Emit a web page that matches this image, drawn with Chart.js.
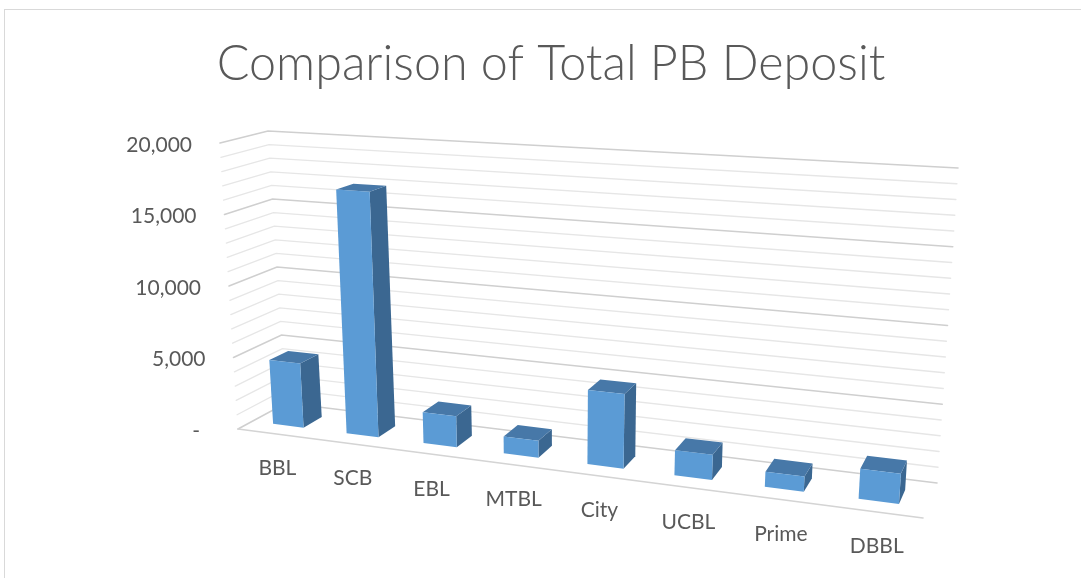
<!DOCTYPE html>
<html lang="en">
<head>
    <meta charset="UTF-8">
    <title>Comparison of Total PB Deposit</title>
    <script src="https://cdn.jsdelivr.net/npm/chart.js"></script>
    <style>
        html, body { margin: 0; padding: 0; background: #fff; overflow: hidden; }
        .frame {
            position: absolute; left: 4px; top: 9px; width: 2000px; height: 2000px;
            border-top: 1px solid #d9d9d9; border-left: 1px solid #d9d9d9;
        }
        #chart { position: absolute; left: 0; top: 0; }
    </style>
</head>

<body>
    <div class="frame"></div>
    <canvas id="chart" width="1081" height="578"></canvas>

    <script>
        // data
        const chartTitle = 'Comparison of Total PB Deposit';
        const banks = ['BBL', 'SCB', 'EBL', 'MTBL', 'City', 'UCBL', 'Prime', 'DBBL'];
        const deposits = [4500, 16900, 2100, 1130, 4850, 1600, 950, 1850];
        const yMax = 20000;
        const yStep = 1000;       // minor gridlines
        const yLabelStep = 5000;  // labelled gridlines

        // screen corners of the 3D plot box (front plane / back wall)
        const front = { tl: [220, 143], tr: [946, 183], br: [923, 518], bl: [238, 429] };
        const back = { tl: [268, 131], tr: [958, 168], br: [937, 483], bl: [286, 403] };
        const persp = 0.16;          // foreshortening along categories
        const barDepth = [0.3, 0.7]; // bars sit in the middle of the floor depth

        const lerp = (a, b, t) => a + (b - a) * t;

        function planePt(pl, u, v) {
            const bx = lerp(pl.bl[0], pl.br[0], u), by = lerp(pl.bl[1], pl.br[1], u);
            const tx = lerp(pl.tl[0], pl.tr[0], u), ty = lerp(pl.tl[1], pl.tr[1], u);
            return [lerp(bx, tx, v), lerp(by, ty, v)];
        }

        // u: 0..1 across categories, v: 0..1 of value axis, d: 0 front .. 1 back
        function proj(u, v, d) {
            const w = u * (1 - persp) + persp * u * u;
            const f = planePt(front, w, v), b = planePt(back, w, v);
            return [lerp(f[0], b[0], d), lerp(f[1], b[1], d)];
        }

        function poly(ctx, pts, color) {
            ctx.beginPath();
            ctx.moveTo(pts[0][0], pts[0][1]);
            pts.slice(1).forEach(p => ctx.lineTo(p[0], p[1]));
            ctx.closePath();
            ctx.fillStyle = color;
            ctx.fill();
        }

        function line(ctx, pts, color, width) {
            ctx.beginPath();
            ctx.moveTo(pts[0][0], pts[0][1]);
            pts.slice(1).forEach(p => ctx.lineTo(p[0], p[1]));
            ctx.strokeStyle = color;
            ctx.lineWidth = width;
            ctx.stroke();
        }

        // draws walls, gridlines and 3D columns from the flat bar geometry
        const box3d = {
            id: 'box3d',
            beforeDatasetsDraw(chart) {
                const ctx = chart.ctx;
                const ys = chart.scales.y;
                const ca = chart.chartArea;

                ctx.save();
                ctx.lineCap = 'round';
                ys.ticks.forEach(t => {
                    const v = t.value / yMax;
                    const major = t.value % yLabelStep === 0;
                    line(ctx, [proj(0, v, 0), proj(0, v, 1), proj(1, v, 1)],
                        major ? '#cfcfcf' : '#e6e6e6', major ? 1.6 : 1.3);
                });
                line(ctx, [proj(0, 0, 0), proj(1, 0, 0)], '#d4d4d4', 1.6);

                const [dF, dB] = barDepth;
                chart.getDatasetMeta(0).data.forEach(bar => {
                    const p = bar.getProps(['x', 'y', 'base', 'width'], true);
                    const u0 = (p.x - p.width / 2 - ca.left) / ca.width;
                    const u1 = (p.x + p.width / 2 - ca.left) / ca.width;
                    const v0 = (ca.bottom - p.base) / ca.height;
                    const v1 = (ca.bottom - p.y) / ca.height;

                    poly(ctx, [proj(u1, v0, dF), proj(u1, v1, dF), proj(u1, v1, dB), proj(u1, v0, dB)], '#3b6791');
                    poly(ctx, [proj(u0, v1, dF), proj(u1, v1, dF), proj(u1, v1, dB), proj(u0, v1, dB)], '#4778a8');
                    poly(ctx, [proj(u0, v0, dF), proj(u1, v0, dF), proj(u1, v1, dF), proj(u0, v1, dF)], '#5b9bd5');
                });
                ctx.restore();
                return false;
            },
            afterDraw(chart) {
                const ctx = chart.ctx;
                const ys = chart.scales.y;
                const ca = chart.chartArea;

                ctx.save();
                ctx.fillStyle = '#595959';
                ctx.font = '21px Lato';
                ctx.textAlign = 'center';
                ctx.textBaseline = 'middle';
                chart.getDatasetMeta(0).data.forEach((bar, i) => {
                    const p = proj((bar.x - ca.left) / ca.width, 0, 0);
                    ctx.fillText(chart.data.labels[i], p[0] + 3, p[1] + 35);
                });

                ctx.textAlign = 'right';
                ys.ticks.filter(t => t.value % yLabelStep === 0).forEach(t => {
                    const p = proj(0, t.value / yMax, 0);
                    const txt = t.value === 0 ? '-' : t.value.toLocaleString('en-US');
                    ctx.fillText(txt, p[0] - (t.value === 0 ? 38 : 28), p[1] + 2);
                });

                ctx.font = '300 48.5px Lato';
                ctx.textAlign = 'center';
                ctx.textBaseline = 'alphabetic';
                ctx.fillText(chartTitle, 551, 80);
                ctx.restore();
            }
        };

        new Chart(document.getElementById('chart'), {
            type: 'bar',
            data: {
                labels: banks,
                datasets: [{
                    label: 'Total PB Deposit',
                    data: deposits,
                    backgroundColor: '#5b9bd5',
                    barPercentage: 0.84,
                    categoryPercentage: 0.5
                }]
            },
            options: {
                responsive: false,
                animation: false,
                plugins: {
                    legend: { display: false },
                    tooltip: { enabled: false },
                    title: { display: false }
                },
                scales: {
                    x: { display: false },
                    y: {
                        display: true,
                        min: 0,
                        max: yMax,
                        ticks: { stepSize: yStep, display: false },
                        grid: { display: false },
                        border: { display: false }
                    }
                }
            },
            plugins: [box3d]
        });
    </script>
</body>

</html>
